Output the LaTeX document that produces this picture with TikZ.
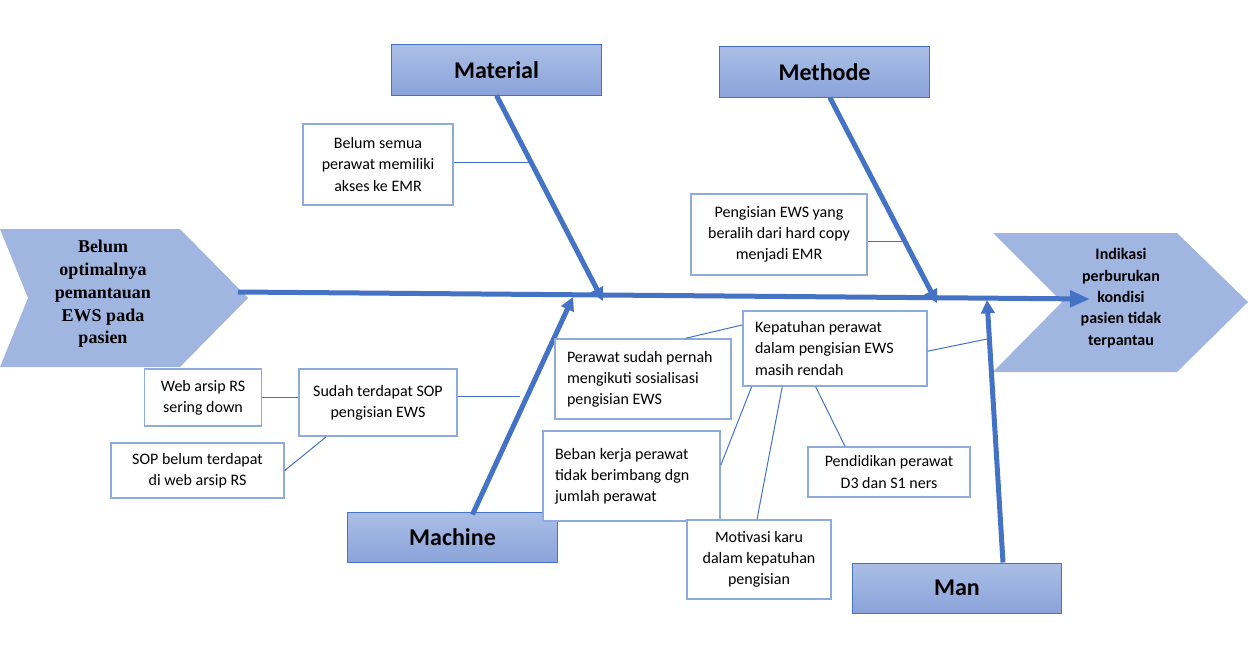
\documentclass[tikz,border=0pt]{standalone}
\usepackage{fontspec}
\setmainfont{Carlito}
\newfontfamily\tnr{Liberation Serif}
\usetikzlibrary{arrows.meta,positioning}
\definecolor{bonec}{HTML}{4472C4}
\definecolor{headc}{HTML}{A0B6E0}
\definecolor{cattop}{HTML}{AABEE6}
\definecolor{catbot}{HTML}{8BA3DA}
\definecolor{causec}{HTML}{8FAADC}

\begin{document}
\begin{tikzpicture}[x=0.75pt,y=-0.75pt,
  cat/.style={draw=bonec, line width=0.75pt, top color=cattop, bottom color=catbot,
    minimum width=157pt, minimum height=37.5pt, font=\fontsize{18}{20}\selectfont\bfseries},
  cause/.style={draw=causec, line width=1.1pt, fill=white, align=center,
    font=\fontsize{12}{15.8}\selectfont},
  causel/.style={cause, align=flush left, inner xsep=9pt},
  bone/.style={draw=bonec, line width=3.75pt, -{Triangle[length=10pt,width=10pt]}},
  spine/.style={draw=bonec, line width=3.75pt, -{Triangle[length=15pt,width=12pt]}},
  twig/.style={draw=bonec, line width=0.75pt}]
\useasboundingbox (0,0) rectangle (1248,667);
\fill[headc] (0,229) -- (180,229) -- (248,298) -- (180,367) -- (0,367) -- (28,298) -- cycle;
\fill[headc] (993,233) -- (1177,233) -- (1248,302) -- (1177,372) -- (993,372) -- (1062,302) -- cycle;
\node[font=\tnr\fontsize{13.5}{17}\selectfont\bfseries, align=center] (pr) at (103,294)
  {Belum\\optimalnya\\pemantauan\\EWS pada\\pasien};
\node[font=\fontsize{12}{16}\selectfont\bfseries, align=center] (ef) at (1121,298)
  {Indikasi\\perburukan\\kondisi\\pasien tidak\\terpantau};

\node[cat] (mat) at (496.5,70) {Material};
\node[cat] (met) at (824.5,72) {Methode};
\node[cat] (mac) at (452.5,537) {Machine};
\node[cat] (man) at (957,588) {Man};

\coordinate (s0) at (238,292);
\coordinate (s1) at (1090,299);
\coordinate (pmat) at (603,301);
\coordinate (pmet) at (937,303);
\coordinate (pmac) at (573,297);
\coordinate (pman) at (987,300);
\draw[spine] (s0) -- (s1);
\draw[bone] (mat.south) -- (pmat);
\draw[bone] ([xshift=4pt]met.south) -- (pmet);
\draw[bone] ([xshift=15pt,yshift=-2.25pt]mac.north) -- (pmac);
\draw[bone] ([xshift=34.5pt]man.north) -- (pman);

\node[cause, minimum width=112.5pt, minimum height=60.75pt] (mat1) at (378,164.5)
  {Belum semua\\perawat memiliki\\akses ke EMR};
\node[cause, minimum width=132pt, minimum height=60.75pt] (met1) at (779,234.5)
  {Pengisian EWS yang\\beralih dari hard copy\\menjadi EMR};
\node[cause, minimum width=118.5pt, minimum height=50.25pt] (mac1) at (378,402.5)
  {Sudah terdapat SOP\\pengisian EWS};
\node[cause, minimum width=87.75pt, minimum height=42.75pt, left=27pt of mac1, yshift=3.75pt] (mac2)
  {Web arsip RS\\sering down};
\node[cause, minimum width=129.75pt, minimum height=41.25pt] (mac3) at (197.5,470.5)
  {SOP belum terdapat\\di web arsip RS};
\node[causel, text width=114pt, minimum height=60pt] (man1) at (643,379)
  {Perawat sudah pernah\\mengikuti sosialisasi\\pengisian EWS};
\node[causel, text width=120pt, minimum height=56.25pt] (man2) at (835,348.5)
  {Kepatuhan perawat\\dalam pengisian EWS\\masih rendah};
\node[causel, text width=114.75pt, minimum height=67.5pt] (man3) at (631.5,476)
  {Beban kerja perawat\\tidak berimbang dgn\\jumlah perawat};
\node[cause, minimum width=108pt, minimum height=59.25pt] (man4) at (759,559.5)
  {Motivasi karu\\dalam kepatuhan\\pengisian};
\node[cause, minimum width=121.5pt, minimum height=37.5pt] (man5) at (889,472)
  {Pendidikan perawat\\D3 dan S1 ners};

\coordinate (qmat) at (533,162);
\coordinate (qmet) at (903,241);
\coordinate (qmac) at (520,396);
\coordinate (qman) at (987,339);
\draw[twig] (mat1.east |- qmat) -- (qmat);
\draw[twig] (met1.east |- qmet) -- (qmet);
\draw[twig] (mac1.east |- qmac) -- (qmac);
\draw[twig] (mac2.east) -- (mac2.east -| mac1.west);
\draw[twig] (mac3.east) -- ([xshift=21pt]mac1.south west);
\draw[twig] ([xshift=-34.5pt]man1.north east) -- ([yshift=-11pt]man2.north west);
\draw[twig] ([yshift=-2pt]man2.east) -- (qman);
\draw[twig] ([yshift=8pt]man3.east) -- ([xshift=7pt]man2.south west);
\draw[twig] ([xshift=-1.5pt]man4.north) -- ([xshift=30pt]man2.south west);
\draw[twig] ([xshift=-33pt]man5.north) -- ([xshift=55pt]man2.south west);
\end{tikzpicture}
\end{document}
